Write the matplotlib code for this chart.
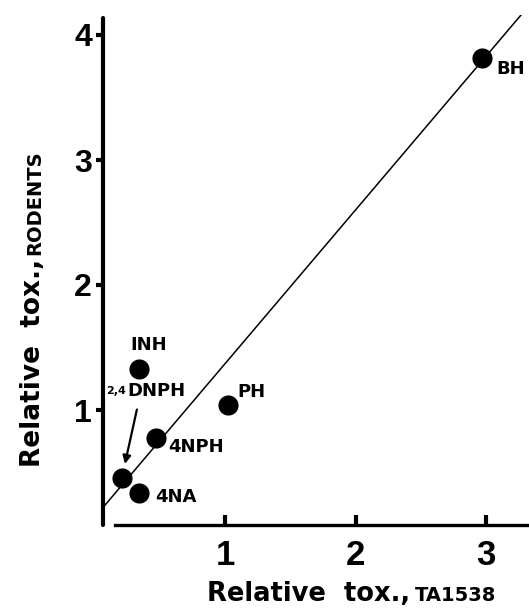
import matplotlib.pyplot as plt

# values
names = ["BH", "PH", "INH", "2,4DNPH", "4NPH", "4NA"]
tox_ta1538 = [2.97, 1.02, 0.34, 0.21, 0.47, 0.34]
tox_rodents = [3.82, 1.04, 1.33, 0.46, 0.78, 0.34]
fit_slope = 1.23
fit_intercept = 0.14
fit_range = [0.065, 3.3]
ticks_x = [1, 2, 3]
ticks_y = [1, 2, 3, 4]

# label offsets in pixels (label left edge / vertical centre vs the dot)
label_offsets = {
    "BH": (14, -12),
    "PH": (10, 13),
    "INH": (-8, 24),
    "4NPH": (12, -10),
    "4NA": (16, -4),
}

plt.rcParams["font.family"] = ["Liberation Sans", "DejaVu Sans"]
plt.rcParams["font.weight"] = "bold"
wide = ["DejaVu Sans"]

W, H = 529, 611
fig = plt.figure(figsize=(W / 100, H / 100), dpi=100)
ax = fig.add_axes([94.5 / W, 1 - 535 / H, 434.5 / W, 520 / H])
ax.set_xlim(0, 434.5 / 130.5)
ax.set_ylim(0, 520 / 125)

# fitted line
xs = fit_range
ax.plot(xs, [fit_intercept + fit_slope * x for x in xs], color="black", lw=1.1, zorder=2)

# dots
ax.scatter(tox_ta1538, tox_rodents, s=210, color="black", zorder=3, linewidths=0)

for name, x, y in zip(names, tox_ta1538, tox_rodents):
    if name == "2,4DNPH":
        ax.annotate("2,4", (x, y), xytext=(-16, 86), textcoords="offset pixels",
                    ha="left", va="center", fontsize=8, family=wide, fontweight="bold")
        ax.annotate("DNPH", (x, y), xytext=(5, 86), textcoords="offset pixels",
                    ha="left", va="center", fontsize=13, family=wide, fontweight="bold")
        ax.annotate("", (x, y), xytext=(15, 68), textcoords="offset pixels",
                    arrowprops=dict(arrowstyle="-|>", color="black", lw=1.6,
                                    mutation_scale=12, shrinkA=0, shrinkB=10))
        continue
    dx, dy = label_offsets[name]
    ax.annotate(name, (x, y), xytext=(dx, dy), textcoords="offset pixels",
                ha="left", va="center", fontsize=13, family=wide, fontweight="bold")

# axes drawn like the original: thick lines, offset from the origin
for s in ["top", "right"]:
    ax.spines[s].set_visible(False)
ax.spines["left"].set_position(("data", 0.065))
ax.spines["left"].set_bounds(0.08, 4.14)
ax.spines["left"].set_linewidth(3)
ax.spines["left"].set_capstyle("round")
ax.spines["bottom"].set_position(("data", 0.08))
ax.spines["bottom"].set_bounds(0.16, 434.5 / 130.5)
ax.spines["bottom"].set_linewidth(2.4)

ax.set_xticks(ticks_x)
ax.set_yticks(ticks_y)
ax.set_xticklabels([str(t) for t in ticks_x], fontsize=25, fontweight="bold")
ax.set_yticklabels([str(t) for t in ticks_y], fontsize=23, fontweight="bold")
ax.tick_params(axis="x", direction="in", length=7, width=3, pad=10)
ax.tick_params(axis="y", direction="out", length=5, width=3, pad=3)

# axis titles, the unit part set smaller and run on after the main words
fig.canvas.draw()
r = fig.canvas.get_renderer()

xt = fig.text(207 / W, 1 - 601 / H, "Relative  tox.,", ha="left", va="baseline",
              fontsize=18.5, family=wide, fontweight="bold")
bb = xt.get_window_extent(r)
fig.text((bb.x1 + 5) / W, 1 - 601 / H, "TA1538", ha="left", va="baseline",
         fontsize=14, family=wide, fontweight="bold")

yt = fig.text(40 / W, 1 - 467 / H, "Relative  tox.,", rotation=90,
              ha="left", va="baseline", rotation_mode="anchor",
              fontsize=19, family=wide, fontweight="bold")
bb = yt.get_window_extent(r)
fig.text(40 / W, (bb.y1 + 4) / H, "RODENTS", rotation=90,
         ha="left", va="baseline", rotation_mode="anchor",
         fontsize=14, family=wide, fontweight="bold")

fig.savefig("out.png", dpi=100)
